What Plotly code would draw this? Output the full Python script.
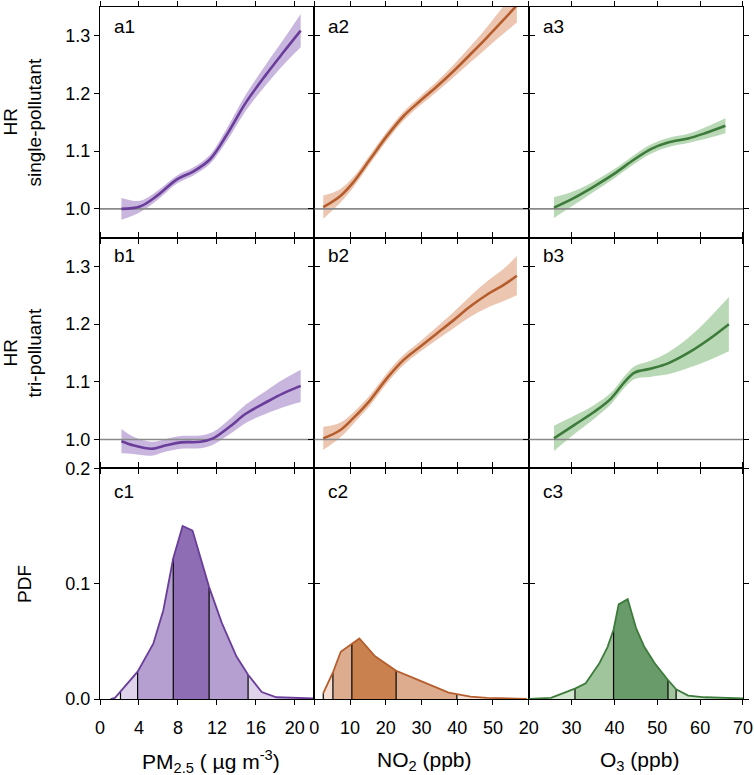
import numpy as np
import plotly.graph_objects as go
from plotly.subplots import make_subplots

# ---------------- data ----------------
# Row a: HR single-pollutant
pm_x_a = [2.2, 4.1, 5.8, 7.9, 9.6, 11.3, 13.0, 15.0, 17.1, 18.8, 20.6]
pm_hr_a = [1.000, 1.004, 1.022, 1.051, 1.065, 1.086, 1.128, 1.185, 1.234, 1.271, 1.309]
pm_ci_a = [0.019, 0.010, 0.008, 0.007, 0.007, 0.008, 0.011, 0.014, 0.018, 0.022, 0.029]

no2_x_a = [2.5, 7.2, 10.9, 15.6, 20.3, 25.0, 29.6, 34.3, 39.0, 43.7, 48.3, 53.0, 56.7]
no2_hr_a = [1.003, 1.022, 1.046, 1.086, 1.126, 1.161, 1.187, 1.212, 1.239, 1.268, 1.297, 1.328, 1.353]
no2_ci_a = [0.020, 0.012, 0.009, 0.008, 0.008, 0.008, 0.008, 0.009, 0.011, 0.014, 0.018, 0.024, 0.030]

o3_x_a = [25.9, 30.6, 35.3, 40.0, 44.7, 48.6, 52.5, 57.2, 61.1, 65.9]
o3_hr_a = [1.002, 1.019, 1.039, 1.061, 1.086, 1.104, 1.115, 1.122, 1.131, 1.144]
o3_ci_a = [0.018, 0.012, 0.009, 0.008, 0.008, 0.008, 0.008, 0.008, 0.010, 0.013]

# Row b: HR tri-pollutant
pm_x_b = [2.2, 3.4, 5.3, 6.8, 8.3, 10.3, 11.6, 13.3, 15.0, 17.1, 18.8, 20.6]
pm_hr_b = [0.997, 0.990, 0.984, 0.990, 0.995, 0.996, 1.002, 1.022, 1.045, 1.065, 1.080, 1.093]
pm_ci_b = [0.021, 0.015, 0.012, 0.011, 0.011, 0.011, 0.011, 0.013, 0.016, 0.020, 0.024, 0.028]

no2_x_b = [2.5, 7.2, 10.9, 15.6, 20.3, 25.0, 29.6, 34.3, 39.0, 43.7, 48.3, 53.0, 56.7]
no2_hr_b = [1.002, 1.016, 1.037, 1.068, 1.106, 1.138, 1.161, 1.184, 1.207, 1.231, 1.251, 1.268, 1.284]
no2_ci_b = [0.020, 0.013, 0.010, 0.009, 0.009, 0.009, 0.009, 0.011, 0.014, 0.018, 0.023, 0.028, 0.034]

o3_x_b = [25.9, 30.6, 35.3, 39.2, 42.4, 44.7, 48.6, 52.5, 57.2, 61.9, 66.7]
o3_hr_b = [1.002, 1.025, 1.048, 1.071, 1.100, 1.116, 1.123, 1.132, 1.150, 1.173, 1.200]
o3_ci_b = [0.022, 0.016, 0.012, 0.010, 0.010, 0.011, 0.014, 0.019, 0.026, 0.036, 0.047]

# Row c: PDFs
pm_pdf_x = [1.08, 1.54, 3.86, 5.47, 6.5, 7.52, 8.48, 9.5, 11.2, 12.5, 14.0, 15.2, 16.6, 18.1, 21.9]
pm_pdf_y = [0.0, 0.001, 0.0237, 0.048, 0.077, 0.122, 0.150, 0.146, 0.097, 0.066, 0.037, 0.021, 0.006, 0.0015, 0.0005]
pm_fill_start = 2.1
pm_quant = [3.86, 7.52, 11.2, 15.2]

no2_pdf_x = [2.5, 5.2, 7.4, 12.6, 17.0, 22.9, 28.7, 37.6, 43.7, 48.3, 59.5]
no2_pdf_y = [0.005, 0.023, 0.041, 0.0525, 0.037, 0.0245, 0.017, 0.0055, 0.002, 0.001, 0.0]
no2_fill_start = 2.5
no2_quant = [5.2, 10.5, 22.9, 39.9]

o3_pdf_x = [20.1, 25.2, 30.8, 33.3, 36.5, 38.4, 39.8, 41.0, 43.1, 45.1, 47.0, 49.4, 52.5, 54.4, 57.2, 61.1, 70.0]
o3_pdf_y = [0.0, 0.001, 0.009, 0.0136, 0.031, 0.045, 0.060, 0.082, 0.0866, 0.061, 0.045, 0.031, 0.0165, 0.0084, 0.003, 0.0015, 0.0005]
o3_fill_start = 20.1
o3_quant = [30.8, 39.8, 52.5, 54.4]

# axis / labels
x_ranges = [[0, 22], [0, 60], [20, 70]]
x_ticks = [[0, 4, 8, 12, 16, 20], [0, 10, 20, 30, 40, 50], [20, 30, 40, 50, 60, 70]]
hr_ticks = [1.0, 1.1, 1.2, 1.3]
pdf_ticks = [0.0, 0.1, 0.2]
x_titles = ["PM<sub>2.5</sub> ( µg m<sup>-3</sup>)", "NO<sub>2</sub> (ppb)", "O<sub>3</sub> (ppb)"]
row_titles = [("HR", "single-pollutant"), ("HR", "tri-polluant"), ("PDF", None)]
panel_labels = [["a1", "a2", "a3"], ["b1", "b2", "b3"], ["c1", "c2", "c3"]]

# styles
line_cols = ["#6a3d9a", "#b55d2c", "#3d7b3b"]
band_cols = ["#c9b6de", "#ecc6b1", "#b9d8b5"]
fill_light = ["#ded3eb", "#f4ded1", "#d3e7d0"]
fill_mid = ["#b49fd0", "#ddac8f", "#a0c59d"]
fill_dark = ["#8e6db4", "#c9814f", "#689a6a"]

FONT = "Liberation Sans, Arial, Helvetica, sans-serif"

W, H = 754, 775
ML, MR, MT, MB = 100, 11, 7, 76

fig = make_subplots(rows=3, cols=3, horizontal_spacing=0, vertical_spacing=0)

hr_rows = [
    [(pm_x_a, pm_hr_a, pm_ci_a), (no2_x_a, no2_hr_a, no2_ci_a), (o3_x_a, o3_hr_a, o3_ci_a)],
    [(pm_x_b, pm_hr_b, pm_ci_b), (no2_x_b, no2_hr_b, no2_ci_b), (o3_x_b, o3_hr_b, o3_ci_b)],
]

for r, row in enumerate(hr_rows):
    for c, (xs, hr, ci) in enumerate(row):
        xs = np.array(xs); hr = np.array(hr); ci = np.array(ci)
        fig.add_trace(go.Scatter(x=xs, y=hr - ci, mode="lines",
                                 line=dict(width=0, shape="spline", smoothing=1.0, color=band_cols[c]),
                                 showlegend=False, hoverinfo="skip"), row=r + 1, col=c + 1)
        fig.add_trace(go.Scatter(x=xs, y=hr + ci, mode="lines", fill="tonexty", fillcolor=band_cols[c],
                                 line=dict(width=0, shape="spline", smoothing=1.0, color=band_cols[c]),
                                 showlegend=False, hoverinfo="skip"), row=r + 1, col=c + 1)
        fig.add_trace(go.Scatter(x=x_ranges[c], y=[1.0, 1.0], mode="lines", line=dict(color="#8a8a8a", width=1.6),
                                 showlegend=False, hoverinfo="skip"), row=r + 1, col=c + 1)
        fig.add_trace(go.Scatter(x=xs, y=hr, mode="lines",
                                 line=dict(color=line_cols[c], width=2.6, shape="spline", smoothing=1.0),
                                 showlegend=False, hoverinfo="skip"), row=r + 1, col=c + 1)

pdfs = [
    (pm_pdf_x, pm_pdf_y, pm_fill_start, pm_quant),
    (no2_pdf_x, no2_pdf_y, no2_fill_start, no2_quant),
    (o3_pdf_x, o3_pdf_y, o3_fill_start, o3_quant),
]
for c, (px, py, fs, q) in enumerate(pdfs):
    px = np.array(px, float); py = np.array(py, float)
    edges = [fs] + list(q) + [px[-1]]
    cols = [fill_light[c], fill_mid[c], fill_dark[c], fill_mid[c], fill_light[c]]
    for i in range(5):
        a, b = edges[i], edges[i + 1]
        inner = [v for v in px if a < v < b]
        sx = [a] + inner + [b]
        sy = list(np.interp(sx, px, py))
        fig.add_trace(go.Scatter(x=sx + [b, a, a], y=sy + [0, 0, sy[0]], mode="lines", fill="toself",
                                 fillcolor=cols[i], line=dict(width=0), showlegend=False, hoverinfo="skip"),
                      row=3, col=c + 1)
    for v in [fs] + list(q):
        yv = float(np.interp(v, px, py))
        if yv > 0.0015:
            fig.add_trace(go.Scatter(x=[v, v], y=[0, yv], mode="lines", line=dict(color="black", width=1.2),
                                     showlegend=False, hoverinfo="skip"), row=3, col=c + 1)
    fig.add_trace(go.Scatter(x=px, y=py, mode="lines", line=dict(color=line_cols[c], width=1.8),
                             showlegend=False, hoverinfo="skip"), row=3, col=c + 1)

axis_common = dict(showline=True, linecolor="black", linewidth=1.2, mirror="ticks", ticks="outside",
                   ticklen=5, tickwidth=1.2, tickcolor="black", showgrid=False, zeroline=False,
                   automargin=False, tickfont=dict(family=FONT, size=18, color="black"))

for r in range(3):
    for c in range(3):
        n = r * 3 + c + 1
        xs = "xaxis" if n == 1 else f"xaxis{n}"
        ys = "yaxis" if n == 1 else f"yaxis{n}"
        fig.layout[xs].update(range=x_ranges[c], tickvals=x_ticks[c], showticklabels=(r == 2),
                              ticklabelstandoff=7, **axis_common)
        if r < 2:
            fig.layout[ys].update(range=[0.95, 1.35], tickvals=hr_ticks, tickformat=".1f",
                                  showticklabels=(c == 0), **axis_common)
        else:
            fig.layout[ys].update(range=[0, 0.2], tickvals=pdf_ticks, tickformat=".1f",
                                  showticklabels=(c == 0), **axis_common)

pw = W - ML - MR
ph = H - MT - MB

def px2x(p):
    return (p - ML) / pw

def py2y(p):
    return (H - MB - p) / ph

ann = []
# panel labels
label_off = [19, 18, 23]
for r in range(3):
    for c in range(3):
        n = r * 3 + c + 1
        xr = "x domain" if n == 1 else f"x{n} domain"
        yr = "y domain" if n == 1 else f"y{n} domain"
        ann.append(dict(text=panel_labels[r][c], xref=xr, yref=yr, x=0, y=1, xanchor="left", yanchor="middle",
                        xshift=12, yshift=-label_off[r], showarrow=False,
                        font=dict(family=FONT, size=19, color="black")))
# x titles
x_centers = [211, 424, 639]
for c in range(3):
    ann.append(dict(text=x_titles[c], xref="paper", yref="paper", x=px2x(x_centers[c]), y=py2y(761),
                    xanchor="center", yanchor="middle", showarrow=False,
                    font=dict(family=FONT, size=21, color="black")))
# row titles
row_centers = [122.5, 353.5, 584]
for r in range(3):
    main, sub = row_titles[r]
    if sub is None:
        ann.append(dict(text=main, xref="paper", yref="paper", x=px2x(24), y=py2y(row_centers[r]),
                        xanchor="center", yanchor="middle", textangle=-90, showarrow=False,
                        font=dict(family=FONT, size=19, color="black")))
    else:
        ann.append(dict(text=main, xref="paper", yref="paper", x=px2x(10), y=py2y(row_centers[r]),
                        xanchor="center", yanchor="middle", textangle=-90, showarrow=False,
                        font=dict(family=FONT, size=19, color="black")))
        ann.append(dict(text=sub, xref="paper", yref="paper", x=px2x(34), y=py2y(row_centers[r]),
                        xanchor="center", yanchor="middle", textangle=-90, showarrow=False,
                        font=dict(family=FONT, size=19, color="black")))

fig.update_layout(width=W, height=H, margin=dict(l=ML, r=MR, t=MT, b=MB, autoexpand=False),
                  plot_bgcolor="white", paper_bgcolor="white", annotations=ann, showlegend=False,
                  font=dict(family=FONT, size=18, color="black"))

fig.write_html("out.html")
